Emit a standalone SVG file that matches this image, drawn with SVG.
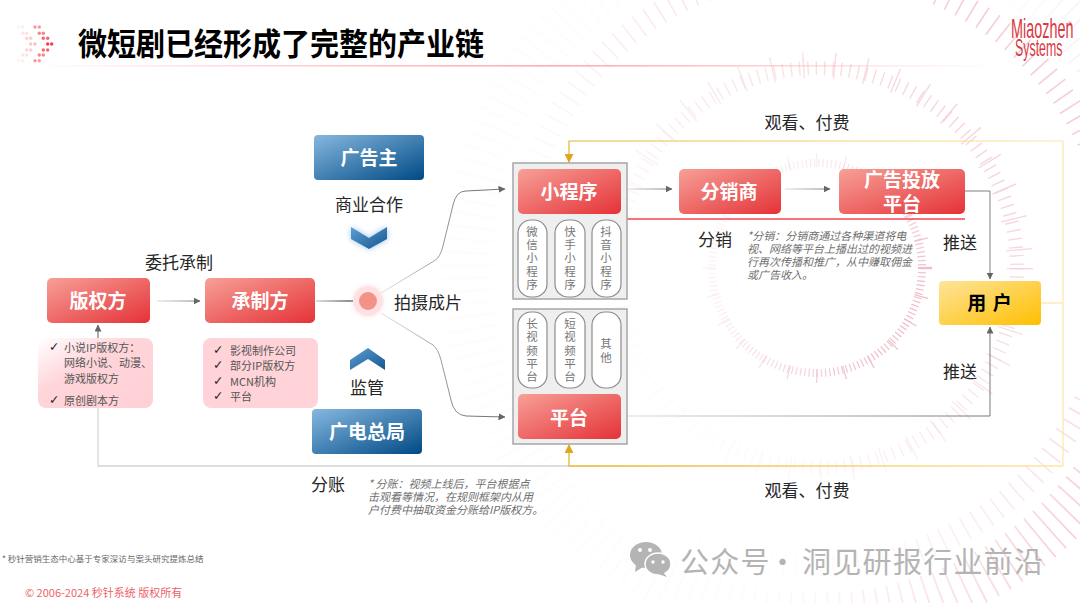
<svg xmlns="http://www.w3.org/2000/svg" width="1080" height="603" viewBox="0 0 1080 603">
<style>
text{font-family:"Liberation Sans","Noto Sans CJK SC",sans-serif}
text:not(.brand){dominant-baseline:central;transform:translateY(-1.5px)}
.m{text-anchor:middle}
.cn{font-family:"Noto Sans CJK SC","Liberation Sans",sans-serif}
.nt{font-size:19px;font-weight:700;fill:#fff;text-anchor:middle}
.lb{font-size:17px;fill:#262626}
.note{font-size:11px;font-style:italic;fill:#6f6f6f}
.li{font-size:11px;fill:#555}
.ck{font-size:12.5px;fill:#222;font-family:"DejaVu Sans",sans-serif}
.pv{font-size:11.5px;fill:#777;text-anchor:middle}
.pill{fill:#fff;stroke:#8c8c8c;stroke-width:1.2}
.panel{fill:#efefef;stroke:#a6a6a6;stroke-width:1.5}
.c{fill:none;stroke:#7f7f7f;stroke-width:1}
.t{fill:none}
</style>
<defs>
<linearGradient id="red" x1="0" y1="0" x2="1" y2="1"><stop offset="0" stop-color="#f7a097"/><stop offset="1" stop-color="#e53237"/></linearGradient>
<linearGradient id="blue" x1="0" y1="0" x2="1" y2="1"><stop offset="0" stop-color="#86b8e0"/><stop offset="1" stop-color="#004a85"/></linearGradient>
<linearGradient id="yel" x1="0" y1="0" x2="1" y2="1"><stop offset="0" stop-color="#fde49a"/><stop offset="1" stop-color="#ffbf00"/></linearGradient>
<linearGradient id="pink" x1="0" y1="0" x2="1" y2="1"><stop offset="0" stop-color="#fff"/><stop offset=".4" stop-color="#ffd5da"/><stop offset="1" stop-color="#ffd0d6"/></linearGradient>
<linearGradient id="chev" x1="0" y1="0" x2="1" y2="1"><stop offset="0" stop-color="#5d9ed4"/><stop offset="1" stop-color="#17568f"/></linearGradient>
<linearGradient id="rule" gradientUnits="userSpaceOnUse" x1="30" y1="0" x2="1000" y2="0"><stop offset="0" stop-color="#ff9aa5" stop-opacity="0"/><stop offset=".55" stop-color="#ffaab3"/><stop offset="1" stop-color="#ffaab3" stop-opacity="0"/></linearGradient>
<linearGradient id="gold" gradientUnits="userSpaceOnUse" x1="570" y1="0" x2="1063" y2="0"><stop offset="0" stop-color="#e6b32e"/><stop offset=".5" stop-color="#f6cf6f"/><stop offset="1" stop-color="#ffe5a6"/></linearGradient>
<linearGradient id="fadeR" gradientUnits="userSpaceOnUse" x1="380" y1="0" x2="470" y2="0"><stop offset="0" stop-color="#e4e4e4"/><stop offset="1" stop-color="#777"/></linearGradient>
<linearGradient id="fadeH1" gradientUnits="userSpaceOnUse" x1="627" y1="0" x2="670" y2="0"><stop offset="0" stop-color="#ddd"/><stop offset="1" stop-color="#777"/></linearGradient>
<linearGradient id="fadeH2" gradientUnits="userSpaceOnUse" x1="785" y1="0" x2="830" y2="0"><stop offset="0" stop-color="#ddd"/><stop offset="1" stop-color="#777"/></linearGradient>
<linearGradient id="fadeH3" gradientUnits="userSpaceOnUse" x1="157" y1="0" x2="200" y2="0"><stop offset="0" stop-color="#ddd"/><stop offset="1" stop-color="#777"/></linearGradient>
<linearGradient id="fadeP" gradientUnits="userSpaceOnUse" x1="625" y1="0" x2="990" y2="0"><stop offset="0" stop-color="#dcdcdc"/><stop offset="1" stop-color="#777"/></linearGradient>
<linearGradient id="dk" gradientUnits="userSpaceOnUse" x1="316" y1="0" x2="353" y2="0"><stop offset="0" stop-color="#bbb"/><stop offset="1" stop-color="#111"/></linearGradient>
<linearGradient id="tick" gradientUnits="userSpaceOnUse" x1="700" y1="150" x2="930" y2="270"><stop offset="0" stop-color="#f4ccd4" stop-opacity=".05"/><stop offset=".5" stop-color="#f4ccd4" stop-opacity=".5"/><stop offset="1" stop-color="#efbcc7"/></linearGradient>
<linearGradient id="tick2" gradientUnits="userSpaceOnUse" x1="640" y1="400" x2="1030" y2="120"><stop offset="0" stop-color="#f6d5db" stop-opacity=".05"/><stop offset="1" stop-color="#f3c2cc"/></linearGradient>
<linearGradient id="tick3" gradientUnits="userSpaceOnUse" x1="800" y1="480" x2="1080" y2="600"><stop offset="0" stop-color="#f6d5db" stop-opacity=".1"/><stop offset="1" stop-color="#f3bfca"/></linearGradient>
<marker id="ag" markerWidth="7" markerHeight="7" refX="6.5" refY="3.5" orient="auto" markerUnits="userSpaceOnUse" viewBox="0 0 7 7"><path d="M0 0 7 3.5 0 7z" fill="#666"/></marker>
<marker id="ay" markerWidth="9" markerHeight="9" refX="8" refY="4.5" orient="auto" markerUnits="userSpaceOnUse" viewBox="0 0 9 9"><path d="M0 0 9 4.5 0 9z" fill="#dfa81c"/></marker>
<filter id="sh" x="-40%" y="-60%" width="180%" height="220%"><feGaussianBlur stdDeviation="3"/></filter>
<filter id="hl" x="-60%" y="-60%" width="220%" height="220%"><feGaussianBlur stdDeviation="2.5"/></filter>
</defs>
<rect width="1080" height="603" fill="#fff"/>

<g id="background-ticks" class="t">
<circle class="t" cx="817" cy="268" r="105" stroke="url(#tick)" stroke-width="8" stroke-dasharray="1.200 3"/>
<circle class="t" cx="817" cy="268" r="108" stroke="url(#tick)" stroke-width="14" stroke-dasharray="1.200 27"/>
<g opacity=".8">
<circle class="t" cx="817" cy="268" r="200" stroke="url(#tick2)" stroke-width="14" stroke-dasharray="1.400 7"/>
<circle class="t" cx="817" cy="268" r="203" stroke="url(#tick2)" stroke-width="26" stroke-dasharray="1.400 30"/>
<circle class="t" cx="817" cy="268" r="300" stroke="url(#tick2)" stroke-width="24" stroke-dasharray="1.600 11"/>
<circle class="t" cx="817" cy="268" r="350" stroke="url(#tick3)" stroke-width="50" stroke-dasharray="1.800 11"/>
</g>
</g>

<g id="header">
<g id="logo-dots">
<g fill="#f2313f"><circle cx="35" cy="27" r="1.7" opacity=".5"/><circle cx="39.300" cy="27" r="1.700" opacity=".5"/><circle cx="39.300" cy="33.300" r="1.700" opacity=".6"/><circle cx="43.300" cy="33.300" r="1.700" opacity=".6"/><circle cx="43.300" cy="38.300" r="1.700" opacity=".75"/><circle cx="47.700" cy="38.300" r="1.700" opacity=".75"/><circle cx="47.700" cy="44" r="1.700" opacity=".95"/><circle cx="51.700" cy="44" r="1.700" opacity=".95"/><circle cx="43.300" cy="50" r="1.700" opacity=".75"/><circle cx="47.700" cy="50" r="1.700" opacity=".75"/><circle cx="39.300" cy="55" r="1.700" opacity=".6"/><circle cx="43.300" cy="55" r="1.700" opacity=".6"/><circle cx="35" cy="60.700" r="1.700" opacity=".5"/><circle cx="39.300" cy="60.700" r="1.700" opacity=".5"/></g>
<g fill="#f2717a"><circle cx="18.500" cy="27" r="1.700" opacity=".08"/><circle cx="22.700" cy="27" r="1.700" opacity=".12"/><circle cx="22.700" cy="33.300" r="1.700" opacity=".18"/><circle cx="26.700" cy="33.300" r="1.700" opacity=".22"/><circle cx="26.700" cy="38.300" r="1.700" opacity=".3"/><circle cx="30.700" cy="38.300" r="1.700" opacity=".35"/><circle cx="30.700" cy="44" r="1.700" opacity=".4"/><circle cx="35" cy="44" r="1.700" opacity=".45"/><circle cx="26.700" cy="50" r="1.700" opacity=".3"/><circle cx="30.700" cy="50" r="1.700" opacity=".35"/><circle cx="22.700" cy="55" r="1.700" opacity=".18"/><circle cx="26.700" cy="55" r="1.700" opacity=".22"/><circle cx="18.500" cy="60.700" r="1.700" opacity=".08"/><circle cx="22.700" cy="60.700" r="1.700" opacity=".12"/></g>
</g>
<text x="78" y="43" class="cn" font-size="31" font-weight="700" fill="#000" textLength="406" lengthAdjust="spacingAndGlyphs">微短剧已经形成了完整的产业链</text>
<rect x="30" y="65" width="970" height="1.6" fill="url(#rule)"/>
<g id="brand" fill="#d83a42">
<text class="brand" font-size="20" transform="translate(1011 38) scale(.72 1.38)">Miaozhen</text>
<text class="brand" font-size="5" transform="translate(1068 26)">®</text>
<text class="brand" font-size="20" transform="translate(1015 56) scale(.62 1.15)">Systems</text>
</g>
</g>

<g id="connectors" fill="none">
<path d="M157 301H200" stroke="url(#fadeH3)" marker-end="url(#ag)"/>
<path d="M316 301H353" stroke="url(#dk)" stroke-width="1.2"/>
<path d="M381 293 L434 261 Q440 258 443 246 L453 205 Q456 191 466 191 L505 189" stroke="url(#fadeR)" marker-end="url(#ag)"/>
<path d="M381 313 L433 345 Q438 349 441 360 L451 400 Q454 415 466 416 L505 417" stroke="url(#fadeR)" marker-end="url(#ag)"/>
<path d="M627 189H672" stroke="url(#fadeH1)" marker-end="url(#ag)"/>
<path d="M785 189H830" stroke="url(#fadeH2)" marker-end="url(#ag)"/>
<path d="M627 219H965" stroke="#f4434f" stroke-width="1.500"/>
<path d="M965 191H990V279" class="c" marker-end="url(#ag)"/>
<path d="M622 416H990V327" stroke="url(#fadeP)" stroke-width="1" marker-end="url(#ag)"/>
<path d="M98 338V325" stroke="#777" stroke-width="1.2" marker-end="url(#ag)"/>
<path d="M98 408V466H569" stroke="#d4d4d4" stroke-width="1.3"/>
<path d="M1041 303H1063" stroke="#ffe08f" stroke-width="1"/>
<path d="M1063 141H569V162" stroke="url(#gold)" stroke-width="1.2" marker-end="url(#ay)"/>
<path d="M1063 141V466" stroke="#ffe5a6" stroke-width="1.2"/>
<path d="M1063 466H569V445" stroke="url(#gold)" stroke-width="1.3" marker-end="url(#ay)"/>
</g>

<g id="node-banquan"><rect x="47" y="278" width="103" height="45" rx="5" fill="url(#red)"/><text x="98" y="301" class="nt cn">版权方</text></g>
<g id="node-chengzhi"><rect x="205" y="278" width="110" height="45" rx="5" fill="url(#red)"/><text x="260" y="301" class="nt cn">承制方</text></g>

<g id="list-banquan"><rect x="38" y="338" width="115" height="70" rx="8" fill="url(#pink)"/>
<text x="49" y="348" class="ck">✓</text><text x="64" y="348" class="li cn">小说IP版权方&#65306;</text><text x="64" y="363" class="li cn">网络小说、动漫、</text><text x="64" y="379" class="li cn">游戏版权方</text>
<text x="49" y="401" class="ck">✓</text><text x="64" y="401" class="li cn">原创剧本方</text></g>
<g id="list-chengzhi"><rect x="203" y="338" width="115" height="70" rx="8" fill="#ffd3d8"/>
<text x="213" y="351" class="ck">✓</text><text x="230" y="351" class="li cn">影视制作公司</text>
<text x="213" y="366" class="ck">✓</text><text x="230" y="366" class="li cn">部分IP版权方</text>
<text x="213" y="382" class="ck">✓</text><text x="230" y="382" class="li cn">MCN机构</text>
<text x="213" y="397" class="ck">✓</text><text x="230" y="397" class="li cn">平台</text></g>

<g id="node-guanggaozhu"><rect x="314" y="135" width="110" height="45" rx="4" fill="url(#blue)"/><text x="369" y="158" class="nt cn">广告主</text></g>
<g id="node-guangdian"><rect x="312" y="409" width="110" height="45" rx="4" fill="url(#blue)"/><text x="367" y="432" class="nt cn">广电总局</text></g>
<g id="chevron-down"><path d="M351 227 369 238 387 227V239L369 249 351 239Z" fill="#5d9ed4" opacity=".6" filter="url(#sh)"/><path d="M351 227 369 238 387 227V239L369 249 351 239Z" fill="url(#chev)"/></g>
<g id="chevron-up"><path d="M350 360 368 348 385 360V370L368 359 350 370Z" fill="url(#chev)"/></g>
<g id="node-shoot"><circle cx="368" cy="301" r="14" fill="#ffc2c6" filter="url(#hl)"/><circle cx="368" cy="301" r="13" fill="#ffe2e3"/><circle cx="368" cy="301" r="9" fill="#f59288"/></g>

<g id="panel-mini"><rect x="513" y="163" width="114" height="136" class="panel"/></g>
<g id="node-xiaochengxu"><rect x="518" y="169" width="103" height="45" rx="5" fill="url(#red)"/><text x="569" y="192" class="nt cn">小程序</text></g>
<g id="pill-wx"><rect x="518" y="220" width="29" height="77" rx="13" class="pill"/><text x="532" y="232" class="pv cn">微</text><text x="532" y="245" class="pv cn">信</text><text x="532" y="258" class="pv cn">小</text><text x="532" y="272" class="pv cn">程</text><text x="532" y="285" class="pv cn">序</text></g>
<g id="pill-ks"><rect x="555" y="220" width="30" height="77" rx="13" class="pill"/><text x="570" y="232" class="pv cn">快</text><text x="570" y="245" class="pv cn">手</text><text x="570" y="258" class="pv cn">小</text><text x="570" y="272" class="pv cn">程</text><text x="570" y="285" class="pv cn">序</text></g>
<g id="pill-dy"><rect x="592" y="220" width="29" height="77" rx="13" class="pill"/><text x="606" y="232" class="pv cn">抖</text><text x="606" y="245" class="pv cn">音</text><text x="606" y="258" class="pv cn">小</text><text x="606" y="272" class="pv cn">程</text><text x="606" y="285" class="pv cn">序</text></g>

<g id="panel-platform"><rect x="513" y="309" width="114" height="135" class="panel"/></g>
<g id="pill-long"><rect x="518" y="312" width="29" height="76" rx="13" class="pill"/><text x="532" y="324" class="pv cn">长</text><text x="532" y="337" class="pv cn">视</text><text x="532" y="351" class="pv cn">频</text><text x="532" y="364" class="pv cn">平</text><text x="532" y="377" class="pv cn">台</text></g>
<g id="pill-short"><rect x="555" y="312" width="30" height="76" rx="13" class="pill"/><text x="570" y="324" class="pv cn">短</text><text x="570" y="337" class="pv cn">视</text><text x="570" y="351" class="pv cn">频</text><text x="570" y="364" class="pv cn">平</text><text x="570" y="377" class="pv cn">台</text></g>
<g id="pill-other"><rect x="592" y="312" width="29" height="76" rx="13" class="pill"/><text x="606" y="344" class="pv cn">其</text><text x="606" y="358" class="pv cn">他</text></g>
<g id="node-pingtai"><rect x="518" y="394" width="103" height="45" rx="5" fill="url(#red)"/><text x="569" y="418" class="nt cn">平台</text></g>

<g id="node-fenxiao"><rect x="679" y="169" width="102" height="45" rx="5" fill="url(#red)"/><text x="729" y="192" class="nt cn">分销商</text></g>
<g id="node-toufang"><rect x="839" y="169" width="126" height="45" rx="5" fill="url(#red)"/><text x="902" y="180" class="nt cn">广告投放</text><text x="902" y="204" class="nt cn">平台</text></g>
<g id="node-user"><rect x="939" y="281" width="102" height="44" rx="4" fill="url(#yel)"/><text x="990" y="303" class="cn m" font-size="19" font-weight="700" fill="#000" letter-spacing="1">用 户</text></g>

<g id="labels">
<text x="179" y="263" class="lb cn m">委托承制</text>
<text x="369" y="205" class="lb cn m">商业合作</text>
<text x="428" y="303" class="lb cn m">拍摄成片</text>
<text x="367" y="388" class="lb cn m">监管</text>
<text x="328" y="485" class="lb cn m">分账</text>
<text x="807" y="123" class="lb cn m">观看、付费</text>
<text x="807" y="491" class="lb cn m">观看、付费</text>
<text x="715" y="240" class="lb cn m">分销</text>
<text x="960" y="243" class="lb cn m">推送</text>
<text x="960" y="372" class="lb cn m">推送</text>
<text x="747" y="236" class="note cn">*分销&#65306;分销商通过各种渠道将电</text>
<text x="747" y="249" class="note cn">视、网络等平台上播出过的视频进</text>
<text x="747" y="262" class="note cn">行再次传播和推广&#65292;从中赚取佣金</text>
<text x="747" y="275" class="note cn">或广告收入。</text>
<text x="368" y="484" class="note cn">* 分账&#65306;视频上线后&#65292;平台根据点</text>
<text x="368" y="497" class="note cn">击观看等情况&#65292;在规则框架内从用</text>
<text x="368" y="510" class="note cn">户付费中抽取资金分账给IP版权方。</text>
</g>

<g id="footer">
<text x="2" y="559" class="cn" font-size="8.500" fill="#666">* 秒针营销生态中心基于专家深访与案头研究提炼总结</text>
<text x="25" y="593" class="cn" font-size="11" fill="#ef5f68">© 2006-2024 秒针系统 版权所有</text>
</g>

<g id="watermark" fill="#b4b4b4">
<ellipse cx="646" cy="555" rx="16" ry="13"/><path d="M636 564 635 572 643 567Z"/>
<ellipse cx="658" cy="564" rx="13" ry="11" stroke="#fff" stroke-width="1.500"/><path d="M663 572 667 577 658 574Z"/>
<g fill="#fff"><circle cx="640" cy="550" r="2"/><circle cx="650" cy="550" r="2"/><circle cx="653" cy="562" r="1.700"/><circle cx="663" cy="562" r="1.700"/></g>
<text y="561" class="cn" font-size="29" letter-spacing="1.300"><tspan x="680">公众号</tspan><tspan x="768">·</tspan><tspan x="802">洞见研报行业前沿</tspan></text>
</g>
</svg>
